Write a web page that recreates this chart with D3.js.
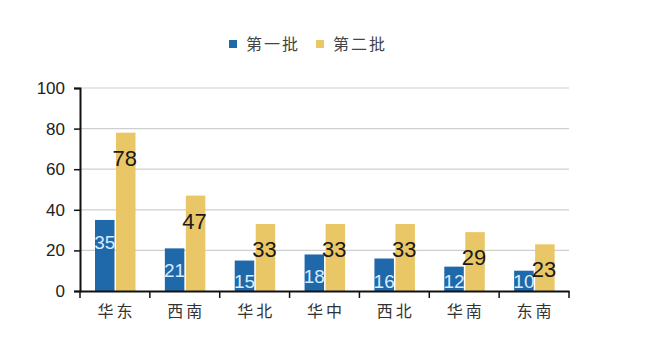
<!DOCTYPE html>
<html><head><meta charset="utf-8">
<script src="https://cdn.jsdelivr.net/npm/d3@7"></script>
<style>body{margin:0;background:#fff}svg{display:block}</style>
</head><body>
<script>
const categories = ["华东","西南","华北","华中","西北","华南","东南"];
const batch1 = [35,21,15,18,16,12,10];
const batch2 = [78,47,33,33,33,29,23];
const seriesNames = ["第一批","第二批"];
const yTicks = [0,20,40,60,80,100];

const W=652,H=358;
const svg=d3.select("body").append("svg").attr("width",W).attr("height",H);
const x=d3.scaleBand().domain(categories).range([80,569]).paddingInner(0).paddingOuter(0);
const y=d3.scaleLinear().domain([0,100]).range([291,88]);
const blue="#1f68aa", gold="#e9c767";

// gridlines
svg.append("g").selectAll("line").data(yTicks.filter(d=>d>0)).join("line")
  .attr("x1",80).attr("x2",569).attr("y1",d=>y(d)).attr("y2",d=>y(d))
  .attr("stroke","#cfcfcf").attr("stroke-width",1.2);

const bw=x.bandwidth();
const barW=19.5;
const off1=15, off2=36;
// bars
svg.append("g").selectAll("rect").data(categories).join("rect")
  .attr("x",d=>x(d)+off1).attr("width",barW)
  .attr("y",(d,i)=>y(batch1[i])).attr("height",(d,i)=>y(0)-y(batch1[i]))
  .attr("fill",blue);
svg.append("g").selectAll("rect").data(categories).join("rect")
  .attr("x",d=>x(d)+off2).attr("width",barW)
  .attr("y",(d,i)=>y(batch2[i])).attr("height",(d,i)=>y(0)-y(batch2[i]))
  .attr("fill",gold);

// y axis
const yAxis=d3.axisLeft(y).tickValues(yTicks).tickSize(6).tickPadding(9);
const gy=svg.append("g").attr("transform","translate(80,0)").call(yAxis);
gy.select(".domain").attr("stroke","#111").attr("stroke-width",2);
gy.selectAll(".tick line").attr("stroke","#111").attr("stroke-width",1.5);
gy.selectAll("text").attr("font-family","Liberation Sans, Arial, sans-serif").attr("font-size",17).attr("fill","#222");

// x axis
const xAxis=d3.axisBottom(x).tickSize(0).tickPadding(15);
const gx=svg.append("g").attr("transform","translate(0,291)").call(xAxis);
gx.select(".domain").attr("stroke","#111").attr("stroke-width",2);
gx.selectAll("text").attr("font-family","Noto Sans CJK SC, sans-serif").attr("font-size",16)
  .attr("letter-spacing","3px").attr("dx","1.5px").attr("fill","#333");
// category boundary ticks
const bounds=categories.map(c=>x(c)).concat([x(categories[categories.length-1])+bw]);
gx.append("g").selectAll("line").data(bounds).join("line")
  .attr("x1",d=>d).attr("x2",d=>d).attr("y1",0).attr("y2",7)
  .attr("stroke","#111").attr("stroke-width",1.5);

// labels
svg.append("g").selectAll("text").data(categories).join("text")
  .attr("x",d=>x(d)+off1+barW/2)
  .attr("y",(d,i)=>Math.min(y(batch1[i])+22,281)+7)
  .attr("text-anchor","middle").attr("font-family","Liberation Sans, Arial, sans-serif")
  .attr("font-size",19).attr("fill","#d6ecff").text((d,i)=>batch1[i]);
svg.append("g").selectAll("text").data(categories).join("text")
  .attr("x",d=>x(d)+off2+barW/2-1)
  .attr("y",(d,i)=>y(batch2[i])+25+8)
  .attr("text-anchor","middle").attr("font-family","Liberation Sans, Arial, sans-serif")
  .attr("font-size",22).attr("fill","#1a1a1a").text((d,i)=>batch2[i]);

// legend
const leg=svg.append("g");
const legX=[229,316];
[blue,gold].forEach((c,i)=>{
  leg.append("rect").attr("x",legX[i]).attr("y",40).attr("width",8).attr("height",8).attr("fill",c);
  leg.append("text").attr("x",legX[i]+17).attr("y",50).attr("font-family","Noto Sans CJK SC, sans-serif")
    .attr("font-size",16).attr("letter-spacing","2px").attr("fill","#444").text(seriesNames[i]);
});
</script>
</body></html>
